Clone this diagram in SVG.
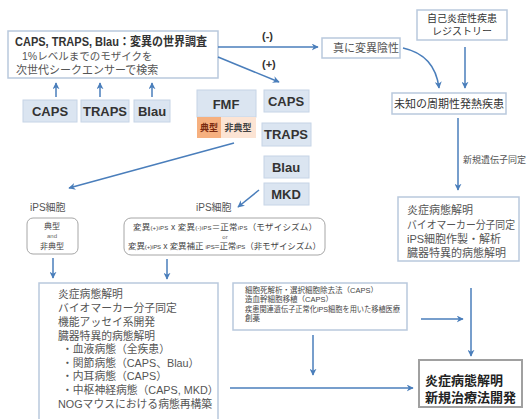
<svg xmlns="http://www.w3.org/2000/svg" width="528" height="419" viewBox="0 0 528 419">
<defs>
<marker id="ah" viewBox="0 0 10 10" refX="9" refY="5" markerWidth="7" markerHeight="7" markerUnits="userSpaceOnUse" orient="auto">
<path d="M0,0 L10,5 L0,10 L3,5 Z" fill="#4a7ebb"/>
</marker>
</defs>
<style>
text{font-family:"Liberation Sans","Noto Sans CJK JP",sans-serif;}
.box{fill:#fff;stroke:#b9c9dd;stroke-width:1.5;}
.rbox{fill:#fff;stroke:#a6a6a6;stroke-width:1;}
.blue{fill:#dbe5f1;stroke:#c6d4e6;stroke-width:1;}
.bl{font-size:13px;font-weight:bold;fill:#333;text-anchor:middle;}
.g{fill:#555;}
.c{stroke:#4a7ebb;stroke-width:1.5;fill:none;marker-end:url(#ah);}
</style>
<rect width="528" height="419" fill="#fff"/>

<g id="survey">
<rect class="box" x="8" y="31" width="210" height="47"/>
<text x="15" y="46" font-size="12" font-weight="bold" fill="#333" textLength="192" lengthAdjust="spacingAndGlyphs">CAPS, TRAPS, Blau：変異の世界調査</text>
<text x="22" y="60" font-size="10.5" class="g">1%レベルまでのモザイクを</text>
<text x="16" y="74" font-size="11" class="g">次世代シークエンサーで検索</text>
</g>

<g id="caps1"><rect class="blue" x="23" y="100" width="54" height="22"/><text class="bl" x="50" y="116">CAPS</text></g>
<g id="traps1"><rect class="blue" x="81" y="100" width="48" height="22"/><text class="bl" x="105" y="116">TRAPS</text></g>
<g id="blau1"><rect class="blue" x="134" y="100" width="36" height="22"/><text class="bl" x="152" y="116">Blau</text></g>

<g id="fmf">
<rect class="blue" x="197" y="90" width="59" height="27"/>
<text class="bl" x="226" y="109">FMF</text>
<rect x="197" y="117" width="24" height="21" fill="#f6b07f"/>
<rect x="221" y="117" width="35" height="21" fill="#fce4d4"/>
<text x="209" y="131" font-size="9" font-weight="bold" fill="#7a2a10" text-anchor="middle">典型</text>
<text x="238" y="131" font-size="9" font-weight="bold" fill="#444" text-anchor="middle">非典型</text>
</g>

<g id="caps2"><rect class="blue" x="264" y="90" width="45" height="22"/><text class="bl" x="286" y="106">CAPS</text></g>
<g id="traps2"><rect class="blue" x="262" y="123" width="49" height="23"/><text class="bl" x="286" y="139">TRAPS</text></g>
<g id="blau2"><rect class="blue" x="264" y="156" width="45" height="22"/><text class="bl" x="286" y="172">Blau</text></g>
<g id="mkd"><rect class="blue" x="264" y="183" width="45" height="22"/><text class="bl" x="286" y="199">MKD</text></g>

<g id="negative"><rect class="box" x="322" y="38" width="78" height="20"/><text x="333" y="52" font-size="11" class="g">真に変異陰性</text></g>

<g id="registry"><rect class="box" x="417" y="10" width="90" height="30"/>
<text x="462" y="22" font-size="10" fill="#333" text-anchor="middle">自己炎症性疾患</text>
<text x="462" y="35" font-size="10" fill="#333" text-anchor="middle">レジストリー</text></g>

<g id="unknown"><rect class="box" x="392" y="93" width="114" height="21"/><text x="449" y="108" font-size="11" fill="#333" text-anchor="middle">未知の周期性発熱疾患</text></g>

<g id="newgene"><text x="463" y="163" font-size="9" class="g">新規遺伝子同定</text></g>

<g id="rightres"><rect class="box" x="398" y="197" width="121" height="64"/>
<text x="407" y="214" font-size="11" class="g">炎症病態解明</text>
<text x="407" y="229" font-size="11" class="g" textLength="108" lengthAdjust="spacingAndGlyphs">バイオマーカー分子同定</text>
<text x="407" y="243" font-size="11" class="g">iPS細胞作製・解析</text>
<text x="407" y="257" font-size="11" class="g">臓器特異的病態解明</text></g>

<g id="ips1"><text x="30" y="211" font-size="10" class="g">iPS細胞</text>
<rect class="rbox" x="27" y="218" width="51" height="36" rx="6"/>
<text x="52" y="229" font-size="8" fill="#444" text-anchor="middle">典型</text>
<text x="52" y="238" font-size="6" fill="#666" text-anchor="middle">and</text>
<text x="52" y="249" font-size="8" fill="#444" text-anchor="middle">非典型</text></g>

<g id="ips2"><text x="196" y="211" font-size="10" class="g">iPS細胞</text>
<rect class="rbox" x="124" y="218" width="201" height="37" rx="7"/>
<text x="133" y="230" font-size="8.5" fill="#444" textLength="184" lengthAdjust="spacing">変異<tspan font-size="6">(+)iPS</tspan> x 変異<tspan font-size="6">(-)iPS</tspan>＝正常<tspan font-size="6">iPS</tspan>（モザイシズム）</text>
<text x="225" y="239" font-size="6" fill="#666" text-anchor="middle">or</text>
<text x="128" y="249" font-size="8.5" fill="#444" textLength="193" lengthAdjust="spacing">変異<tspan font-size="6">(+)iPS</tspan> x 変異補正 <tspan font-size="6">iPS</tspan>=正常<tspan font-size="6">iPS</tspan>（非モザイシズム）</text></g>

<g id="leftres"><rect class="box" x="39" y="283" width="179" height="140"/>
<text x="58" y="298" font-size="10.8" class="g">炎症病態解明</text>
<text x="58" y="312" font-size="10.8" class="g">バイオマーカー分子同定</text>
<text x="58" y="326" font-size="10.8" class="g">機能アッセイ系開発</text>
<text x="58" y="340" font-size="10.8" class="g">臓器特異的病態解明</text>
<text x="62" y="353" font-size="10.8" class="g">・血液病態（全疾患）</text>
<text x="62" y="367" font-size="10.8" class="g">・関節病態（CAPS、Blau）</text>
<text x="62" y="380" font-size="10.8" class="g">・内耳病態（CAPS）</text>
<text x="62" y="394" font-size="10.8" class="g">・中枢神経病態（CAPS, MKD）</text>
<text x="58" y="408" font-size="10.8" class="g">NOGマウスにおける病態再構築</text></g>

<g id="therapy"><rect class="box" x="233" y="283" width="174" height="47"/>
<text x="245" y="293" font-size="7.5" fill="#444">細胞死解析・選択細胞除去法（CAPS）</text>
<text x="245" y="302" font-size="7.5" fill="#444">造血幹細胞移植（CAPS）</text>
<text x="245" y="312" font-size="7.5" fill="#444" textLength="155" lengthAdjust="spacingAndGlyphs">疾患関連遺伝子正常化iPS細胞を用いた移植医療</text>
<text x="245" y="321" font-size="7.5" fill="#444">創薬</text></g>

<g id="final"><rect fill="#fff" stroke="#a0a0a0" stroke-width="2" x="419" y="360" width="103" height="47"/>
<text x="425" y="385" font-size="13" font-weight="bold" fill="#222">炎症病態解明</text>
<text x="425" y="402" font-size="13" font-weight="bold" fill="#222">新規治療法開発</text></g>

<g id="connectors">
<line class="c" x1="56" y1="97" x2="56" y2="83"/>
<line class="c" x1="100" y1="97" x2="100" y2="83"/>
<line class="c" x1="152" y1="97" x2="152" y2="83"/>
<line class="c" x1="218" y1="47" x2="318" y2="47"/>
<text x="262" y="40" font-size="11" font-weight="bold" fill="#333">(-)</text>
<line class="c" x1="218" y1="57" x2="279" y2="82"/>
<text x="262" y="68" font-size="11" font-weight="bold" fill="#333">(+)</text>
<path class="c" d="M403,48 Q435,55 439,88"/>
<line class="c" x1="465" y1="47" x2="465" y2="88"/>
<line class="c" x1="458" y1="118" x2="458" y2="190"/>
<line class="c" x1="234" y1="143" x2="69" y2="188"/>
<line class="c" x1="259" y1="190" x2="238" y2="207"/>
<line class="c" x1="53" y1="258" x2="53" y2="278"/>
<line class="c" x1="167" y1="259" x2="167" y2="279"/>
<line class="c" x1="471" y1="288" x2="471" y2="356"/>
<line class="c" x1="421" y1="319" x2="463" y2="319"/>
<line class="c" x1="313" y1="335" x2="313" y2="375"/>
<line class="c" x1="230" y1="388" x2="413" y2="388"/>
</g>
</svg>
